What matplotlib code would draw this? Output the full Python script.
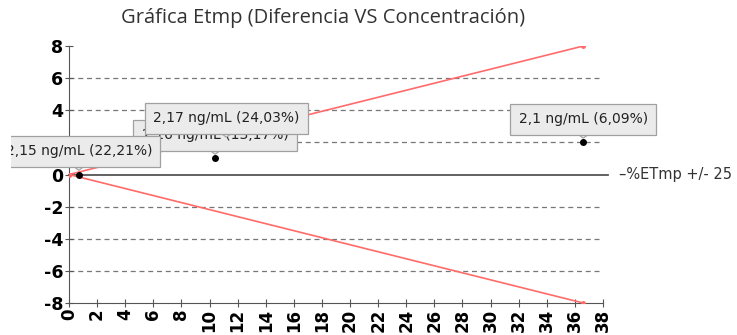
import matplotlib
matplotlib.use("Agg")
import matplotlib.pyplot as plt
from matplotlib.transforms import Bbox

# limit lines (+/- 25 %)
lim_x = [0, 36.6]
lim_up = [0, 8]
lim_dn = [0, -8]

# measured points: concentration vs difference
pt_x = [10.4, 11.2, 0.7, 36.6]
pt_y = [1.0, 2.06, 0.0, 2.0]
pt_lab = ["2,16 ng/mL (13,17%)", "2,17 ng/mL (24,03%)",
          "2,15 ng/mL (22,21%)", "2,1 ng/mL (6,09%)"]

xticks = list(range(0, 39, 2))
yticks = list(range(-8, 9, 2))

fig = plt.figure(figsize=(7.37, 3.35), dpi=100)
ax = fig.add_axes([69 / 737, 32 / 335, 534 / 737, 257 / 335])

for g in [-6, -4, -2, 2, 4, 6]:
    ax.axhline(g, color="#777777", lw=0.9, ls=(0, (4, 3)), zorder=1)
ax.plot([0, 1.01], [0, 0], transform=ax.get_yaxis_transform(),
        color="#555555", lw=1.3, clip_on=False, zorder=2)

ax.plot(lim_x, lim_up, color="#ff6b6b", lw=1.2, marker="o", ms=2.5, zorder=3)
ax.plot(lim_x, lim_dn, color="#ff6b6b", lw=1.2, marker="o", ms=2.5, zorder=3)
ax.plot(pt_x, pt_y, ls="none", marker="o", color="black", ms=4, zorder=4)

clip = Bbox([[11, 0], [737, 335]])
for i, (x, y, s) in enumerate(zip(pt_x, pt_y, pt_lab)):
    a = ax.annotate(s, (x, y), xytext=(0, 23), textcoords="offset pixels",
                    ha="center", va="center", fontsize=10, color="#222222",
                    bbox=dict(boxstyle="square,pad=0.6", fc="#ebebeb", ec="#a0a0a0", lw=0.9),
                    arrowprops=dict(arrowstyle="wedge,tail_width=0.6", fc="#ebebeb",
                                    ec="#a0a0a0", lw=0.8, shrinkA=0, shrinkB=3,
                                    relpos=(0.5, 0.0)),
                    zorder=5 + i, annotation_clip=False)
    if i == 2:
        a.set_clip_on(True)
        a.set_clip_box(clip)

ax.set_xlim(0, 38)
ax.set_ylim(-8, 8)
ax.set_xticks(xticks)
ax.set_xticklabels([str(v) for v in xticks], fontweight="bold")
ax.set_yticks(yticks)
ax.set_yticklabels([str(v) for v in yticks], fontweight="bold")
ax.tick_params(axis="x", labelrotation=90, labelsize=12, direction="inout",
               length=6, color="#555555", pad=1)
ax.tick_params(axis="y", labelsize=12.5, direction="inout", length=6,
               color="#555555", pad=1)
for sp in ["top", "right"]:
    ax.spines[sp].set_visible(False)
for sp in ["left", "bottom"]:
    ax.spines[sp].set_color("#555555")

fig.text(619 / 737, 1 - 174 / 335, "–%ETmp +/- 25", fontsize=10.5,
         color="#333333", va="center", ha="left")
fig.text(323 / 737, 1 - 18 / 335, "Gráfica Etmp (Diferencia VS Concentración)",
         fontsize=14.5, family="Open Sans", color="#333333", ha="center", va="center")

fig.savefig("out.png", dpi=100)
